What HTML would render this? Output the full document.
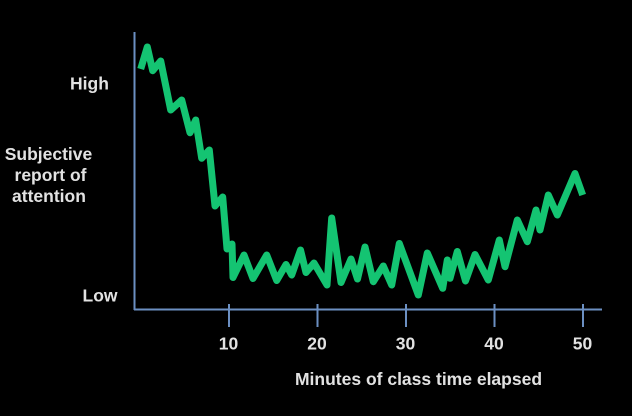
<!DOCTYPE html>
<html>
<head>
<meta charset="utf-8">
<style>
  html, body { margin: 0; padding: 0; background: #000; }
  body { width: 632px; height: 416px; overflow: hidden; }
  svg { display: block; }
  text { font-family: "Liberation Sans", Arial, sans-serif; font-weight: bold; fill: #e2e2e2; font-size: 17.5px; }
</style>
</head>
<body>
<svg width="632" height="416" viewBox="0 0 632 416" xmlns="http://www.w3.org/2000/svg">
  <rect x="0" y="0" width="632" height="416" fill="#000"/>
  <!-- axes -->
  <g stroke="#6b8fc2" stroke-width="2" fill="none">
    <line x1="134.5" y1="32" x2="134.5" y2="310"/>
    <line x1="134" y1="309.5" x2="602" y2="309.5"/>
    <line x1="229" y1="304" x2="229" y2="327"/>
    <line x1="317.5" y1="304" x2="317.5" y2="327"/>
    <line x1="406" y1="304" x2="406" y2="327"/>
    <line x1="494.5" y1="304" x2="494.5" y2="327"/>
    <line x1="583" y1="304" x2="583" y2="327"/>
  </g>
  <!-- data line -->
  <polyline fill="none" stroke="#14c472" stroke-width="7" stroke-linejoin="round" stroke-linecap="butt"
    points="140.7,69 147.3,47 152.7,70.7 160.7,61 170.7,110 181.7,100 190,132.7 195.7,120 201.7,158.3 209.3,150 215,206 222.7,197 227,249 232,244 233,277.5 244,255 253,278.5 266.7,255 276.7,280.5 286,264.5 291.7,275 300.5,250 306,272.5 314,263 327,285 331.7,218 341,282.5 351,259 357.5,279 365,247 373.3,281.7 383.3,266 391.7,285 399.3,243.5 418.3,295 427.3,253 442.7,288.3 447.3,260 450,278.3 457.3,251.5 465.5,281 475,254.5 488.3,280 499.3,240 505,266.7 517.3,220 527.3,241.7 536,210 540,230 548.3,195 557.3,215 575,173.5 582.7,195"/>
  <!-- y labels -->
  <text x="89.5" y="89.5" text-anchor="middle">High</text>
  <text x="100" y="301.5" text-anchor="middle">Low</text>
  <text x="48.5" y="160" text-anchor="middle">Subjective</text>
  <text x="50.5" y="181" text-anchor="middle">report of</text>
  <text x="49" y="202" text-anchor="middle">attention</text>
  <!-- x tick labels -->
  <text x="228.5" y="349.5" text-anchor="middle">10</text>
  <text x="317" y="349.5" text-anchor="middle">20</text>
  <text x="405.5" y="349.5" text-anchor="middle">30</text>
  <text x="494" y="349.5" text-anchor="middle">40</text>
  <text x="582.5" y="349.5" text-anchor="middle">50</text>
  <!-- x axis title -->
  <text x="418.5" y="385" text-anchor="middle">Minutes of class time elapsed</text>
</svg>
</body>
</html>
